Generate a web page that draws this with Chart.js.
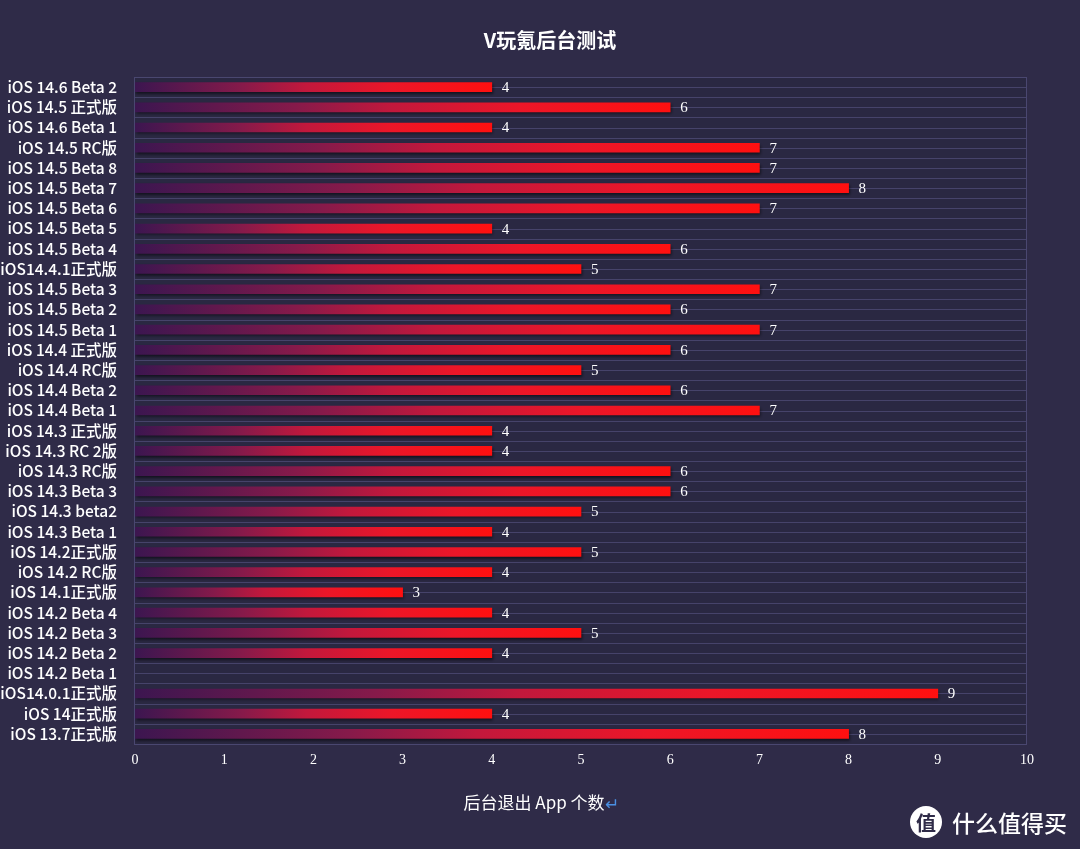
<!DOCTYPE html>
<html>
<head>
<meta charset="utf-8">
<script src="https://cdn.jsdelivr.net/npm/chart.js@4.4.1/dist/chart.umd.min.js"></script>
<style>
  html, body { margin: 0; padding: 0; background: #2f2b48; }
  #wrap { position: relative; width: 1080px; height: 849px; }
  #wm { position: absolute; left: 910px; top: 806px; height: 32px; display: flex; align-items: center; color: #fff;
        font-family: "Noto Sans CJK SC", sans-serif; font-size: 23px; font-weight: 500; }
  #wm .c { width: 32px; height: 32px; border-radius: 50%; background: #fff; color: #2f2b48; font-size: 20px; font-weight: 700;
           display: flex; align-items: center; justify-content: center; margin-right: 10px; }
</style>
</head>
<body>
<div id="wrap">
  <canvas id="c" width="1080" height="849"></canvas>
  <div id="wm"><div class="c">值</div>什么值得买</div>
</div>
<script>
const chartTitle = "V玩氪后台测试";
const axisTitle = "后台退出 App 个数";
const axisTitleMark = "↵";
const categories = [
  "iOS 14.6 Beta 2", "iOS 14.5 正式版", "iOS 14.6 Beta 1", "iOS 14.5 RC版", "iOS 14.5 Beta 8",
  "iOS 14.5 Beta 7", "iOS 14.5 Beta 6", "iOS 14.5 Beta 5", "iOS 14.5 Beta 4", "iOS14.4.1正式版",
  "iOS 14.5 Beta 3", "iOS 14.5 Beta 2", "iOS 14.5 Beta 1", "iOS 14.4 正式版", "iOS 14.4 RC版",
  "iOS 14.4 Beta 2", "iOS 14.4 Beta 1", "iOS 14.3 正式版", "iOS 14.3 RC 2版", "iOS 14.3 RC版",
  "iOS 14.3 Beta 3", "iOS 14.3 beta2", "iOS 14.3 Beta 1", "iOS 14.2正式版", "iOS 14.2 RC版",
  "iOS 14.1正式版", "iOS 14.2 Beta 4", "iOS 14.2 Beta 3", "iOS 14.2 Beta 2", "iOS 14.2 Beta 1",
  "iOS14.0.1正式版", "iOS 14正式版", "iOS 13.7正式版"
];
const appCounts = [
  4, 6, 4, 7, 7,
  8, 7, 4, 6, 5,
  7, 6, 7, 6, 5,
  6, 7, 4, 4, 6,
  6, 5, 4, 5, 4,
  3, 4, 5, 4, null,
  9, 4, 8
];
const xTicks = [0, 1, 2, 3, 4, 5, 6, 7, 8, 9, 10];

const plotBg = {
  id: 'plotBg',
  beforeDraw(chart) {
    const { ctx, chartArea: a, scales } = chart;
    ctx.save();
    ctx.fillStyle = '#2a2842';
    ctx.fillRect(a.left, a.top, a.right - a.left, a.bottom - a.top);
    ctx.strokeStyle = '#46436a';
    ctx.lineWidth = 1;
    const y = scales.y;
    const n = categories.length;
    const step = (y.getPixelForValue(n - 1) - y.getPixelForValue(0)) / (n - 1);
    for (let i = 0; i < n; i++) {
      const c = y.getPixelForValue(i);
      [c - step / 2, c].forEach(p => {
        const py = Math.round(p) + 0.5;
        ctx.beginPath(); ctx.moveTo(a.left, py); ctx.lineTo(a.right, py); ctx.stroke();
      });
    }
    ctx.strokeStyle = '#4a4770';
    ctx.strokeRect(Math.round(a.left) - 0.5, Math.round(a.top) + 0.5, a.right - a.left, a.bottom - a.top);
    ctx.restore();
  },
  beforeDatasetsDraw(chart) {
    const ctx = chart.ctx;
    ctx.save();
    ctx.shadowColor = 'rgba(0,0,0,0.55)';
    ctx.shadowOffsetY = 2;
    ctx.shadowOffsetX = 1;
    ctx.shadowBlur = 3;
  },
  afterDatasetsDraw(chart) {
    const ctx = chart.ctx;
    ctx.restore();
    ctx.save();
    ctx.fillStyle = '#ffffff';
    ctx.font = '15px "Liberation Serif", serif';
    ctx.textBaseline = 'middle';
    ctx.textAlign = 'left';
    const meta = chart.getDatasetMeta(0);
    meta.data.forEach((bar, i) => {
      const v = appCounts[i];
      if (v === null || v === undefined) return;
      ctx.fillText(String(v), bar.x + 10, bar.y + 1);
    });
    ctx.restore();
  },
  afterDraw(chart) {
    const ctx = chart.ctx;
    ctx.save();
    ctx.fillStyle = '#ffffff';
    ctx.textBaseline = 'middle';
    ctx.textAlign = 'center';
    ctx.font = 'bold 20px "Noto Sans CJK SC", sans-serif';
    ctx.fillText(chartTitle, 550, 40);
    ctx.font = '17px "Noto Sans CJK SC", sans-serif';
    const w1 = ctx.measureText(axisTitle).width;
    const w2 = ctx.measureText(axisTitleMark).width;
    const start = 541 - (w1 + w2) / 2;
    ctx.textAlign = 'left';
    ctx.fillText(axisTitle, start, 803);
    ctx.fillStyle = '#4a90e2';
    ctx.fillText(axisTitleMark, start + w1, 804);
    ctx.restore();
  }
};

function barGradient(context) {
  const chart = context.chart;
  const a = chart.chartArea;
  if (!a) return '#ff1010';
  const v = context.raw;
  if (v === null || v === undefined) return '#ff1010';
  const x0 = chart.scales.x.getPixelForValue(0);
  const x1 = chart.scales.x.getPixelForValue(v);
  const g = chart.ctx.createLinearGradient(x0, 0, x1, 0);
  g.addColorStop(0, '#3c1650');
  g.addColorStop(0.3, '#861a4a');
  g.addColorStop(0.48, '#c2183c');
  g.addColorStop(0.72, '#ec1628');
  g.addColorStop(1, '#ff1010');
  return g;
}

new Chart(document.getElementById('c'), {
  type: 'bar',
  data: {
    labels: categories,
    datasets: [{
      data: appCounts,
      backgroundColor: barGradient,
      barThickness: 9,
      borderWidth: 0
    }]
  },
  plugins: [plotBg],
  options: {
    indexAxis: 'y',
    responsive: false,
    animation: false,
    layout: { padding: { left: 0, right: 53, top: 77, bottom: 0 } },
    plugins: {
      legend: { display: false },
      tooltip: { enabled: false },
      title: { display: false }
    },
    scales: {
      x: {
        min: 0, max: 10,
        afterBuildTicks(axis) { axis.ticks = xTicks.map(v => ({ value: v })); },
        grid: { display: false, drawTicks: false },
        border: { display: false },
        ticks: {
          color: '#ffffff',
          padding: 8,
          font: { family: '"Liberation Serif", serif', size: 14 }
        },
        afterFit(axis) { axis.height = 105; }
      },
      y: {
        grid: { display: false, drawTicks: false },
        border: { display: false },
        ticks: {
          color: '#ffffff',
          padding: 18,
          autoSkip: false,
          font: { family: '"Noto Sans CJK SC", "Noto Sans", sans-serif', size: 15.5, weight: '500' }
        },
        afterFit(axis) { axis.width = 135; }
      }
    }
  }
});
</script>
</body>
</html>
